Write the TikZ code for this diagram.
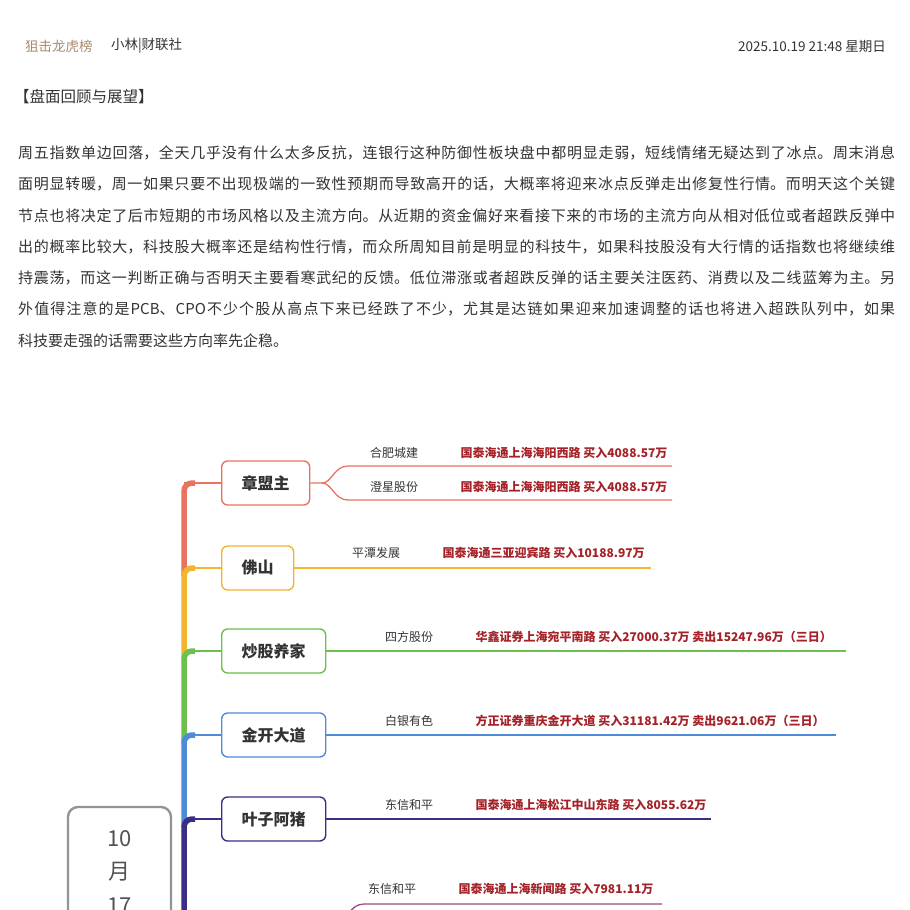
\documentclass[tikz,border=0pt]{standalone}
\usepackage{fontspec}
\setmainfont{Noto Sans CJK SC}
\usepackage{xcolor}
\usetikzlibrary{positioning}
\XeTeXlinebreaklocale "zh"
\XeTeXlinebreakskip=0pt plus 4pt\relax
\tolerance=10000
\definecolor{zmzred}{HTML}{E8735F}
\definecolor{fsorange}{HTML}{F3B52F}
\definecolor{cgygreen}{HTML}{6DBF4E}
\definecolor{jkblue}{HTML}{4E8CD8}
\definecolor{yzpurple}{HTML}{3B2E84}
\definecolor{nextpink}{HTML}{9B4C84}
\definecolor{seatred}{HTML}{A52228}
\definecolor{inkgray}{HTML}{333333}
\definecolor{dategray}{HTML}{8E959B}
\definecolor{tagtan}{HTML}{A98B6F}
\tikzset{
    headtext/.style={anchor=west, inner sep=0pt, text=inkgray, font=\fontsize{13.5}{13.5}\selectfont},
    traderbox/.style={draw=#1, line width=1.4pt, rounded corners=6pt, fill=white, anchor=west,
        minimum height=44pt, inner xsep=20pt, text=inkgray, font=\fontsize{16}{16}\selectfont\bfseries},
    spine/.style={line width=5.5pt, rounded corners=8pt},
    twig/.style={line width=1.6pt},
    leaf/.style={line width=1.3pt},
    stockname/.style={anchor=west, inner sep=0pt, text=inkgray, font=\fontsize{12}{12}\selectfont},
    seatinfo/.style={inner sep=0pt, text=seatred, font=\fontsize{12}{12}\selectfont\bfseries}
}
\begin{document}
\begin{tikzpicture}[x=1pt, y=-1pt]
            \path[use as bounding box, fill=white] (0,0) rectangle (910,910);
            \clip (0,0) rectangle (910,910);
            \node[headtext, text=tagtan] (column) at (25,46) {狙击龙虎榜};
            \node[headtext, right=18pt of column] (byline) {小林|财联社};
            \node[headtext, anchor=east] (stamp) at (886,46) {2025.10.19 21:48 星期日};
            \node[anchor=west, inner sep=0pt, text=inkgray, font=\fontsize{15.5}{15.5}\selectfont] (review) at (14,97) {【盘面回顾与展望】};
            \node[anchor=north west, inner sep=0pt, text width=877pt, align=justify, text=inkgray,
                font=\fontsize{15}{31.3}\selectfont] (summary) at (18,145.5) {周五指数单边回落，全天几乎没有什么太多反抗，连银行这种防御性板块盘中都明显走弱，短线情绪无疑达到了冰点。周末消息\linebreak
                面明显转暖，周一如果只要不出现极端的一致性预期而导致高开的话，大概率将迎来冰点反弹走出修复性行情。而明天这个关键\linebreak
                节点也将决定了后市短期的市场风格以及主流方向。从近期的资金偏好来看接下来的市场的主流方向从相对低位或者超跌反弹中\linebreak
                出的概率比较大，科技股大概率还是结构性行情，而众所周知目前是明显的科技牛，如果科技股没有大行情的话指数也将继续维\linebreak
                持震荡，而这一判断正确与否明天主要看寒武纪的反馈。低位滞涨或者超跌反弹的话主要关注医药、消费以及二线蓝筹为主。另\linebreak
                外值得注意的是PCB、CPO不少个股从高点下来已经跌了不少，尤其是达链如果迎来加速调整的话也将进入超跌队列中，如果\linebreak
                科技要走强的话需要这些方向率先企稳。};
            \node[draw=dategray, line width=2.4pt, rounded corners=10pt, minimum width=103pt, minimum height=130pt,
                align=center, text=inkgray!85, font=\fontsize{22}{33.5}\selectfont] (day) at (119.5,872) {10\\月\\17};
            \coordinate (s1) at (184,483);
            \coordinate (s2) at (184,568);
            \coordinate (s3) at (184,651);
            \coordinate (s4) at (184,735);
            \coordinate (s5) at (184,819);
            \coordinate (s6) at (184,925);
            \node[traderbox=zmzred] (zmz) at (221,483) {章盟主};
            \node[traderbox=fsorange] (fs) at (221,568) {佛山};
            \node[traderbox=cgygreen] (cgyj) at (221,651) {炒股养家};
            \node[traderbox=jkblue] (jkdd) at (221,735) {金开大道};
            \node[traderbox=yzpurple] (yzaz) at (221,819) {叶子阿猪};
            \draw[twig, zmzred] (s1) -- (zmz.west);
            \draw[twig, fsorange] (s2) -- (fs.west);
            \draw[twig, cgygreen] (s3) -- (cgyj.west);
            \draw[twig, jkblue] (s4) -- (jkdd.west);
            \draw[twig, yzpurple] (s5) -- (yzaz.west);
            \draw[spine, zmzred] ([yshift=-8pt]s2) |- ([xshift=-26pt]zmz.west);
            \draw[spine, fsorange] ([yshift=-8pt]s3) |- ([xshift=-26pt]fs.west);
            \draw[spine, cgygreen] ([yshift=-8pt]s4) |- ([xshift=-26pt]cgyj.west);
            \draw[spine, jkblue] ([yshift=-8pt]s5) |- ([xshift=-26pt]jkdd.west);
            \draw[spine, yzpurple] (s6) |- ([xshift=-26pt]yzaz.west);
            \coordinate (zfork) at (322,483);
            \coordinate (zend1) at (672,466);
            \coordinate (zend2) at (672,500);
            \coordinate (fsend) at (651,568);
            \coordinate (cgend) at (846,651);
            \coordinate (jkend) at (836,735);
            \coordinate (yzend) at (711,819);
            \coordinate (nfork) at (338,920);
            \coordinate (nend) at (662,904);
            \draw[leaf, zmzred] (zmz.east) -- (zfork) .. controls (332,483) and (334,466) .. (348,466) -- (zend1);
            \draw[leaf, zmzred] (zfork) .. controls (332,483) and (334,500) .. (348,500) -- (zend2);
            \draw[leaf, fsorange] (fs.east) -- (fsend);
            \draw[leaf, cgygreen] (cgyj.east) -- (cgend);
            \draw[leaf, jkblue] (jkdd.east) -- (jkend);
            \draw[leaf, yzpurple] (yzaz.east) -- (yzend);
            \draw[leaf, nextpink] (nfork) .. controls (348,920) and (350,904) .. (364,904) -- (nend);
            \node[stockname] (hfcj) at (370,453) {合肥城建};
            \node[seatinfo, right=42pt of hfcj] (hfcjseat) {国泰海通上海海阳西路 买入4088.57万};
            \node[stockname] (cxgf) at (370,487) {澄星股份};
            \node[seatinfo, right=42pt of cxgf] (cxgfseat) {国泰海通上海海阳西路 买入4088.57万};
            \node[stockname] (ptfz) at (352,553) {平潭发展};
            \node[seatinfo, right=42pt of ptfz] (ptfzseat) {国泰海通三亚迎宾路 买入10188.97万};
            \node[stockname] (sfgf) at (385,637) {四方股份};
            \node[seatinfo, right=42pt of sfgf] (sfgfseat) {华鑫证券上海宛平南路 买入27000.37万 卖出15247.96万（三日）};
            \node[stockname] (byys) at (385,721) {白银有色};
            \node[seatinfo, right=42pt of byys] (byysseat) {方正证券重庆金开大道 买入31181.42万 卖出9621.06万（三日）};
            \node[stockname] (dxhp) at (385,805) {东信和平};
            \node[seatinfo, right=42pt of dxhp] (dxhpseat) {国泰海通上海松江中山东路 买入8055.62万};
            \node[stockname] (dxhpnext) at (368,889) {东信和平};
            \node[seatinfo, right=42pt of dxhpnext] (dxhpnextseat) {国泰海通上海新闻路 买入7981.11万};
        \end{tikzpicture}
\end{document}
